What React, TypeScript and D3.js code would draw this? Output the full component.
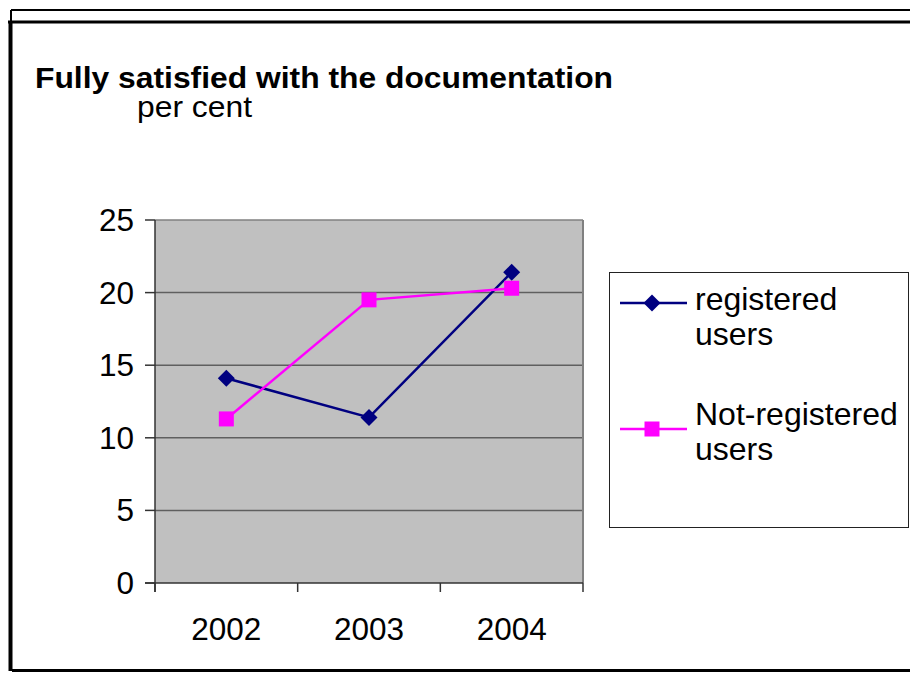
import React from "react";
import * as d3 from "d3";

const years = ["2002", "2003", "2004"];
const registered = [14.1, 11.4, 21.4];
const notRegistered = [11.3, 19.5, 20.3];
const yTicks = [0, 5, 10, 15, 20, 25];
const seriesNames = [
  ["registered", "users"],
  ["Not-registered", "users"],
];

const W = 910;
const H = 675;
const font = "'Liberation Sans', Arial, Helvetica, sans-serif";

const App = () => {
  const plot = { left: 155, right: 583, top: 220, bottom: 583 };

  const x = d3.scaleBand().domain(years).range([plot.left, plot.right]).padding(0);
  const y = d3.scaleLinear().domain([0, 25]).range([plot.bottom, plot.top]);
  const cx = (d: string) => (x(d) as number) + x.bandwidth() / 2;

  const line = d3
    .line<number>()
    .x((_, i) => cx(years[i]))
    .y((d) => y(d));

  const diamond = (px: number, py: number, r: number) =>
    `M${px},${py - r}L${px + r},${py}L${px},${py + r}L${px - r},${py}Z`;

  // x tick positions are the band edges
  const xEdges = years.map((d) => x(d) as number).concat([plot.right]);

  return (
    <svg
      width={W}
      height={H}
      style={{ position: "absolute", left: 0, top: 0, background: "#fff" }}
      fontFamily={font}
    >
      {/* outer frame */}
      <line x1={11} x2={W} y1={10} y2={10} stroke="#000" strokeWidth={2} />
      <line x1={11} x2={11} y1={10} y2={22} stroke="#000" strokeWidth={2} />
      <line x1={8} x2={W} y1={22} y2={22} stroke="#000" strokeWidth={3} />
      <line x1={10.5} x2={10.5} y1={21} y2={671} stroke="#000" strokeWidth={4} />
      <line x1={12} x2={W} y1={670.5} y2={670.5} stroke="#000" strokeWidth={3} />

      {/* title */}
      <text x={35} y={88} fontSize={30} fontWeight="bold" textLength={578} lengthAdjust="spacingAndGlyphs">
        Fully satisfied with the documentation
      </text>
      <text x={137} y={117} fontSize={29} textLength={115} lengthAdjust="spacingAndGlyphs">
        per cent
      </text>

      {/* plot area */}
      <rect
        x={plot.left}
        y={plot.top}
        width={plot.right - plot.left}
        height={plot.bottom - plot.top}
        fill="#c0c0c0"
      />
      {yTicks
        .filter((t) => t > 0)
        .map((t) => (
          <line
            key={t}
            x1={plot.left}
            x2={plot.right}
            y1={y(t)}
            y2={y(t)}
            stroke={t === 25 ? "#808080" : "#5f5f5f"}
            strokeWidth={1.5}
          />
        ))}
      <line x1={plot.right} x2={plot.right} y1={plot.top} y2={plot.bottom} stroke="#808080" strokeWidth={2} />
      <line x1={plot.left} x2={plot.left} y1={plot.top} y2={plot.bottom + 9} stroke="#333" strokeWidth={1.5} />
      <line x1={plot.left - 10} x2={plot.right} y1={plot.bottom} y2={plot.bottom} stroke="#333" strokeWidth={1.5} />

      {/* y axis */}
      {yTicks.map((t) => (
        <g key={t}>
          <line x1={plot.left - 10} x2={plot.left} y1={y(t)} y2={y(t)} stroke="#333" strokeWidth={1.5} />
          <text x={134} y={y(t) + 11} fontSize={31.5} textAnchor="end">
            {t}
          </text>
        </g>
      ))}

      {/* x axis */}
      {xEdges.map((e, i) => (
        <line key={i} x1={e} x2={e} y1={plot.bottom} y2={plot.bottom + 9} stroke="#333" strokeWidth={1.5} />
      ))}
      {years.map((d) => (
        <text key={d} x={cx(d)} y={640} fontSize={31.5} textAnchor="middle">
          {d}
        </text>
      ))}

      {/* series */}
      <path d={line(registered) as string} fill="none" stroke="#000080" strokeWidth={2.5} />
      <path d={line(notRegistered) as string} fill="none" stroke="#ff00ff" strokeWidth={2.5} />
      {registered.map((v, i) => (
        <path key={i} d={diamond(cx(years[i]), y(v), 8.5)} fill="#000080" />
      ))}
      {notRegistered.map((v, i) => (
        <rect key={i} x={cx(years[i]) - 7.5} y={y(v) - 7.5} width={15} height={15} fill="#ff00ff" />
      ))}

      {/* legend */}
      <rect x={609.5} y={272.5} width={299} height={255} fill="#fff" stroke="#222" strokeWidth={1} />
      <line x1={620} x2={687} y1={303} y2={303} stroke="#000080" strokeWidth={2.5} />
      <path d={diamond(652, 303, 8.5)} fill="#000080" />
      <text x={695} y={310} fontSize={32}>{seriesNames[0][0]}</text>
      <text x={695} y={345} fontSize={32}>{seriesNames[0][1]}</text>
      <line x1={620} x2={687} y1={429} y2={429} stroke="#ff00ff" strokeWidth={2.5} />
      <rect x={644.5} y={421.5} width={15} height={15} fill="#ff00ff" />
      <text x={695} y={425} fontSize={32}>{seriesNames[1][0]}</text>
      <text x={695} y={460} fontSize={32}>{seriesNames[1][1]}</text>
    </svg>
  );
};

export default App;
